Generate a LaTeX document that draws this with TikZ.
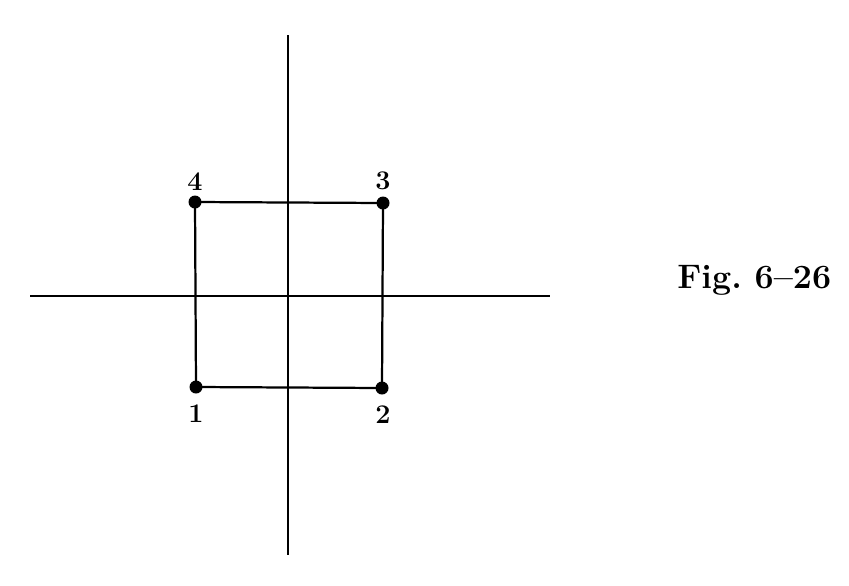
\documentclass[tikz,border=0pt]{standalone}
\begin{document}
\begin{tikzpicture}[x=0.3mm, y=-0.3mm, thick]
        \useasboundingbox (0,0) rectangle (849,585);
        \tikzset{axis/.style={line width=2.4pt}, side/.style={line width=1.9pt},
          dot/.style={circle, fill=black, inner sep=0pt, minimum size=3.9mm},
          num/.style={font=\bfseries\fontsize{23}{27}\selectfont}}
        % axes
        \coordinate (xl) at (30,296);  \coordinate (xr) at (550,296);
        \coordinate (yt) at (288,35);  \coordinate (yb) at (288,555);
        \draw [axis](xl)--(xr);
        \draw [axis](yt)--(yb);
        % corners
        \node [dot] (p1) at (196,387) {};
        \node [dot] (p2) at (382,388) {};
        \node [dot] (p3) at (383,203) {};
        \node [dot] (p4) at (195,202) {};
        \draw [side](p1.center)--(p2.center)--(p3.center)--(p4.center)--cycle;
        \node [num] (n1) at (196,414) {1};
        \node [num] (n2) at (383,415) {2};
        \node [num] (n3) at (383,181) {3};
        \node [num] (n4) at (195,182) {4};
        \node [anchor=base west, inner sep=0pt, font=\bfseries\fontsize{29}{34}\selectfont] (cap) at (677,288) {Fig.~6--26};
    \end{tikzpicture}
\end{document}
